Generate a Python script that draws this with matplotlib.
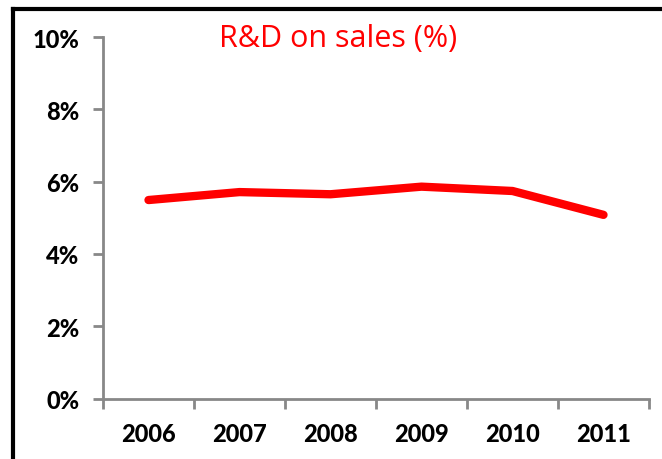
import matplotlib.pyplot as plt
from matplotlib.lines import Line2D
from matplotlib.ticker import FixedLocator

years = ['2006', '2007', '2008', '2009', '2010', '2011']
rd_on_sales = [5.49, 5.71, 5.65, 5.86, 5.74, 5.08]
y_ticks = [0, 2, 4, 6, 8, 10]
y_labels = ['0%', '2%', '4%', '6%', '8%', '10%']

axis_grey = '#888888'

fig = plt.figure(figsize=(6.62, 4.60), dpi=100)
ax = fig.add_axes([103 / 662, 1 - 399.5 / 460, 546 / 662, 361.5 / 460])

x = list(range(len(years)))
ax.plot(x, rd_on_sales, color='#ff0000', linewidth=6, solid_capstyle='round',
        solid_joinstyle='round')

ax.set_xlim(-0.5, len(years) - 0.5)
ax.set_ylim(0, 10)

ax.set_xticks(x)
ax.set_xticklabels(years)
ax.xaxis.set_minor_locator(FixedLocator([i - 0.5 for i in range(len(years) + 1)]))
ax.tick_params(axis='x', which='major', length=0, pad=17)
ax.tick_params(axis='x', which='minor', length=7, width=2, color=axis_grey)

ax.set_yticks(y_ticks)
ax.set_yticklabels(y_labels)
ax.tick_params(axis='y', length=7, width=2, color=axis_grey, pad=10)

for lab in ax.get_xticklabels() + ax.get_yticklabels():
    lab.set_fontfamily('Lato')
    lab.set_fontweight('black')
    lab.set_fontsize(17)

for side in ['top', 'right']:
    ax.spines[side].set_visible(False)
for side in ['left', 'bottom']:
    ax.spines[side].set_color(axis_grey)
    ax.spines[side].set_linewidth(2)

fig.text(338 / 662, 1 - 39 / 460, 'R&D on sales (%)', color='#ff0000',
         fontsize=22, family='Open Sans', ha='center', va='center')

# outer frame, only top and left edges show
fig.add_artist(Line2D([13 / 662, 1.01], [1 - 10 / 460, 1 - 10 / 460],
                      transform=fig.transFigure, color='black', linewidth=3,
                      solid_capstyle='projecting'))
fig.add_artist(Line2D([13 / 662, 13 / 662], [1 - 10 / 460, -0.01],
                      transform=fig.transFigure, color='black', linewidth=3,
                      solid_capstyle='projecting'))

fig.savefig('out.png', dpi=100)
